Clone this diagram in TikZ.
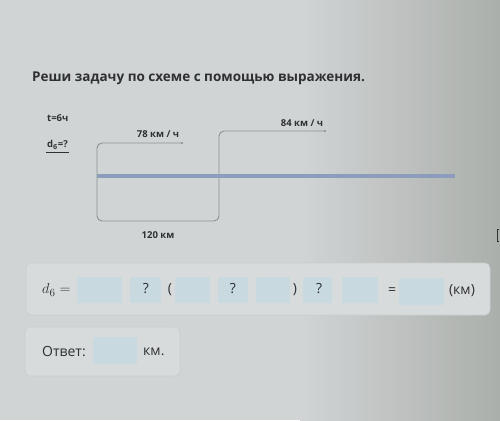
\documentclass[tikz,border=0pt]{standalone}
\usepackage{fontspec}
\setmainfont{Open Sans}
\usetikzlibrary{calc}
\definecolor{bgL}{HTML}{D1D4D5}
\definecolor{bgR}{HTML}{ABAFAB}
\definecolor{panel}{HTML}{D8DBDC}
\definecolor{panelEdge}{HTML}{C9CDCE}
\definecolor{inbox}{HTML}{C8DAE0}
\definecolor{txt}{HTML}{2E3033}
\definecolor{path}{HTML}{8E9092}
\definecolor{road}{HTML}{8C9CBC}
\tikzset{
  lbl/.style={inner sep=0pt, text=txt, font=\fontsize{9.5}{11}\selectfont\bfseries},
  eqtxt/.style={inner sep=0pt, text=txt, font=\fontsize{14}{16}\selectfont},
  inp/.style={fill=inbox, rounded corners=1.5pt, draw=none},
  pnl/.style={fill=panel, draw=panelEdge, line width=0.6pt, rounded corners=5pt},
  route/.style={draw=path, line width=0.9pt, rounded corners=5pt},
  enddot/.style={circle, fill=path, inner sep=0pt, minimum size=2.4pt}
}
\begin{document}
\begin{tikzpicture}[x=1pt,y=-1pt]
\useasboundingbox (0,0) rectangle (500,420);
\fill[bgL] (0,0) rectangle (500,420);
\shade[left color=bgL, right color=bgR] (300,0) rectangle (500,420);

% title
\node[inner sep=0pt, anchor=west, text=txt, font=\fontsize{13.5}{16}\selectfont\bfseries] (title) at (32,78) {Реши задачу по схеме с помощью выражения.};

% left labels
\node[lbl, anchor=west] (t) at (47,118) {t=6ч};
\node[lbl, anchor=west] (d) at (47,145) {d\textsubscript{б}=?};
\draw[txt, line width=0.7pt] ($(d.south west)+(-1,3)$) -- ($(d.south east)+(1,3)$);

% route
\coordinate (p1) at (182,143);
\coordinate (p2) at (325,131);
\draw[route] (p1) -- (97,143) -- (97,221) -- (219,221) -- (219,131) -- (p2);
\node[enddot] (e1) at (p1) {};
\node[enddot] (e2) at (p2) {};

% road
\coordinate (r1) at (97,176);
\coordinate (r2) at (455,176);
\draw[road, line width=3.6pt] (r1) -- (r2);

\node[lbl] (v1) at (158,134) {78 км / ч};
\node[lbl] (v2) at (302,123) {84 км / ч};
\node[lbl] (s) at (158,235) {120 км};

% edge artefact
\draw[txt, line width=0.8pt] (499,229) -- (497,229) -- (497,241) -- (499,241);

% equation panel
\draw[pnl] (26,263) rectangle (490,315);
\node[inner sep=0pt, anchor=west, text=txt, font=\fontsize{15}{17}\selectfont] (dd) at (42,290) {$d_6 =$};
\fill[inp] (77,277) rectangle (122,303);
\fill[inp] (130,277) rectangle (161,303);
\node[eqtxt] (q1) at (146,289) {?};
\node[eqtxt] (lp) at (170,290) {(};
\fill[inp] (175,277) rectangle (210,303);
\fill[inp] (218,277) rectangle (248,303);
\node[eqtxt] (q2) at (233,289) {?};
\fill[inp] (256,277) rectangle (290,303);
\node[eqtxt] (rp) at (295,290) {)};
\fill[inp] (303,277) rectangle (332,303);
\node[eqtxt] (q3) at (319,289) {?};
\fill[inp] (342,277) rectangle (378,303);
\node[eqtxt] (eq2) at (392,291) {=};
\fill[inp] (399,278) rectangle (444,305);
\node[eqtxt] (km1) at (462,291) {(км)};

% answer panel
\draw[pnl] (25,327) rectangle (180,376);
\node[eqtxt, anchor=west] (ans) at (42,352) {Ответ:};
\fill[inp] (93,337) rectangle (137,364);
\node[eqtxt, anchor=west] (km2) at (143,352) {км.};
\end{tikzpicture}
\end{document}
